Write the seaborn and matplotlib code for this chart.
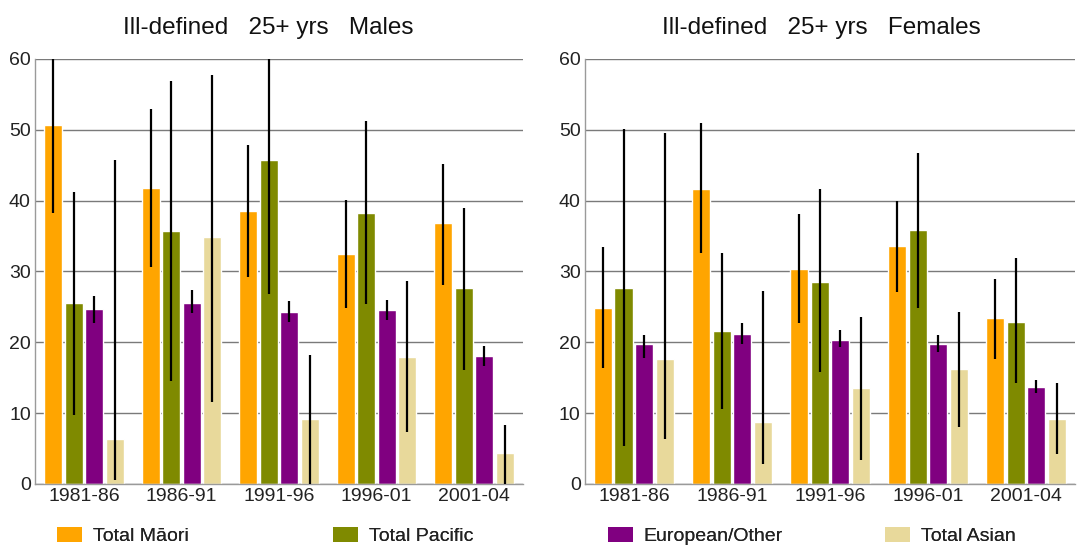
import pandas as pd
import matplotlib
matplotlib.use("Agg")
import matplotlib.pyplot as plt
from matplotlib.patches import Patch
import seaborn as sns

# Data
periods = ["1981-86", "1986-91", "1991-96", "1996-01", "2001-04"]
groups = ["Total Māori", "Total Pacific", "European/Other", "Total Asian"]
colors = ["#FFA500", "#7F8A00", "#800080", "#E8D99B"]

# Males
m_maori = [50.7, 41.8, 38.6, 32.5, 36.8]
m_maori_lo = [38.3, 30.6, 29.2, 24.8, 28.1]
m_maori_hi = [60.0, 52.9, 47.9, 40.1, 45.2]
m_pacific = [25.6, 35.7, 45.8, 38.3, 27.7]
m_pacific_lo = [9.7, 14.5, 26.8, 25.4, 16.1]
m_pacific_hi = [41.2, 56.9, 60.0, 51.2, 39.0]
m_euro = [24.7, 25.6, 24.3, 24.6, 18.1]
m_euro_lo = [22.7, 24.1, 22.8, 23.2, 16.6]
m_euro_hi = [26.6, 27.4, 25.8, 26.0, 19.5]
m_asian = [6.4, 34.8, 9.2, 17.9, 4.4]
m_asian_lo = [0.6, 11.6, 0.0, 7.3, 0.0]
m_asian_hi = [45.7, 57.7, 18.2, 28.7, 8.3]

# Females
f_maori = [24.9, 41.6, 30.4, 33.6, 23.4]
f_maori_lo = [16.3, 32.6, 22.7, 27.1, 17.7]
f_maori_hi = [33.5, 51.0, 38.1, 40.0, 29.0]
f_pacific = [27.7, 21.6, 28.5, 35.9, 22.8]
f_pacific_lo = [5.3, 10.6, 15.8, 24.8, 14.3]
f_pacific_hi = [50.1, 32.6, 41.6, 46.7, 31.9]
f_euro = [19.7, 21.2, 20.3, 19.8, 13.7]
f_euro_lo = [17.8, 19.7, 19.3, 18.6, 12.8]
f_euro_hi = [21.0, 22.7, 21.7, 21.0, 14.7]
f_asian = [17.7, 8.7, 13.5, 16.2, 9.2]
f_asian_lo = [6.3, 2.8, 3.4, 8.0, 4.3]
f_asian_hi = [49.6, 27.2, 23.6, 24.3, 14.3]


def make_df(vals, los, his):
    rows = []
    for g, v, lo, hi in zip(groups, vals, los, his):
        for p, a, b, c in zip(periods, v, lo, hi):
            rows.append({"period": p, "group": g, "rate": a, "lo": b, "hi": c})
    return pd.DataFrame(rows)


males = make_df([m_maori, m_pacific, m_euro, m_asian],
                [m_maori_lo, m_pacific_lo, m_euro_lo, m_asian_lo],
                [m_maori_hi, m_pacific_hi, m_euro_hi, m_asian_hi])
females = make_df([f_maori, f_pacific, f_euro, f_asian],
                  [f_maori_lo, f_pacific_lo, f_euro_lo, f_asian_lo],
                  [f_maori_hi, f_pacific_hi, f_euro_hi, f_asian_hi])

sns.set_style("white")
plt.rcParams["font.family"] = ["Liberation Sans", "DejaVu Sans"]

fig = plt.figure(figsize=(10.81, 5.55), dpi=100)
ax1 = fig.add_axes([0.0324, 0.128, 0.4514, 0.7658])
ax2 = fig.add_axes([0.541, 0.128, 0.4535, 0.7658])


def draw(ax, df):
    sns.barplot(data=df, x="period", y="rate", hue="group", order=periods,
                hue_order=groups, palette=colors, width=0.84, gap=0.12,
                errorbar=None, legend=False, ax=ax, saturation=1)
    # confidence intervals as plain vertical lines
    for cont, g in zip(ax.containers, groups):
        sub = df[df["group"] == g].set_index("period").loc[periods]
        for bar, lo, hi in zip(cont.patches, sub["lo"], sub["hi"]):
            x = bar.get_x() + bar.get_width() / 2
            ax.vlines(x, lo, hi, color="black", lw=1.6, zorder=4)
    ax.set_ylim(0, 60)
    ax.set_xlim(-0.5, 4.5)
    ax.set_yticks(range(0, 61, 10))
    ax.yaxis.grid(True, color="#7a7a7a", lw=1)
    ax.set_axisbelow(True)
    ax.set_xlabel("")
    ax.set_ylabel("")
    for s in ["top", "right"]:
        ax.spines[s].set_visible(False)
    for s in ["left", "bottom"]:
        ax.spines[s].set_color("#9a9a9a")
        ax.spines[s].set_linewidth(1)
    ax.tick_params(axis="x", length=0, pad=3, labelsize=14, labelcolor="#222222")
    ax.tick_params(axis="y", length=2, pad=1, labelsize=14, labelcolor="#222222",
                   color="#7a7a7a")


draw(ax1, males)
draw(ax2, females)

fig.text(268 / 1081, 1 - 34 / 555, "Ill-defined   25+ yrs   Males",
         ha="center", va="baseline", fontsize=17.5, color="#111111")
fig.text(821 / 1081, 1 - 34 / 555, "Ill-defined   25+ yrs   Females",
         ha="center", va="baseline", fontsize=17.5, color="#111111")

# one legend per entry so each sits where it does in the reference
legend_x = [47, 323, 598, 875]
for c, g, lx in zip(colors, groups, legend_x):
    leg = fig.legend(handles=[Patch(facecolor=c, edgecolor="none", label=g)],
                     loc="lower left", bbox_to_anchor=(lx / 1081, 0.0),
                     frameon=False, fontsize=14, handlelength=1.3,
                     handleheight=0.8, handletextpad=0.55, borderaxespad=0.1,
                     labelcolor="#222222")
    fig.add_artist(leg)

fig.savefig("out.png", dpi=100)
